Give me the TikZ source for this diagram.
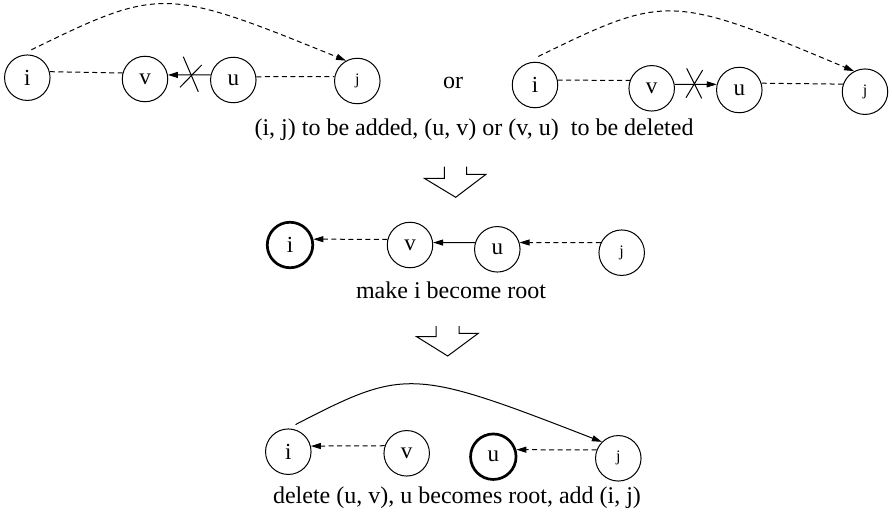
\documentclass[tikz,border=0pt]{standalone}
\usepackage{fontspec}
\setmainfont{Liberation Serif}
\usetikzlibrary{arrows.meta}
\begin{document}
\begin{tikzpicture}[x=1pt,y=-1pt,
  vertex/.style={draw,circle,minimum size=45.5pt,inner sep=0pt,line width=1pt,
                 font=\fontsize{23}{27}\selectfont},
  rootvertex/.style={vertex,line width=2.7pt},
  smalllabel/.style={font=\fontsize{16}{19}\selectfont},
  link/.style={line width=1pt},
  dashedlink/.style={link,dash pattern=on 5pt off 3.5pt},
  tip/.style={-{Triangle[length=10pt,width=6pt]}},
  caption/.style={font=\fontsize{24}{28}\selectfont,anchor=base},
  hollow/.style={line width=1pt,line join=miter},
  crossmark/.style={line width=1pt}
]
\useasboundingbox (0,0) rectangle (892,522);

% ---- first case: edge u -> v ----
\node[vertex] (ia) at (27.3,77.7) {i};
\node[vertex] (va) at (145,79) {v};
\node[vertex] (ua) at (233.3,80) {u};
\node[vertex,smalllabel] (ja) at (357.3,81) {j};
\draw[dashedlink] (ia.15) -- (va.165);
\draw[link,tip] (ua.167) -- (va.10);
\draw[dashedlink] (ua.8) -- (ja.169);
\draw[dashedlink,tip] ([yshift=5pt]ia.80) .. controls (160,-13) and (165,-13) .. (ja.119);
\draw[crossmark] (183.3,56.7) -- (198.3,91.7) (180,87.3) -- (201.7,65);

\node[caption] (or) at (453,88) {or};

% ---- second case: edge v -> u ----
\node[vertex] (ib) at (535,85) {i};
\node[vertex] (vb) at (651.7,88.3) {v};
\node[vertex] (ub) at (739.3,90) {u};
\node[vertex,smalllabel] (jb) at (865,91.7) {j};
\draw[dashedlink] (ib.12.5) -- (vb.160);
\draw[link,tip] (vb.10) -- (ub.166);
\draw[dashedlink] (ub.17) -- (jb.161);
\draw[dashedlink,tip] ([yshift=5.5pt]ib.82) .. controls (666,-6) and (671,-6) .. (jb.118);
\draw[crossmark] (686.7,68.3) -- (701.7,98.3) (686,97.7) -- (702.7,70);

\node[caption] (cap1) at (474,135) {(i, j) to be added, (u, v) or (v, u)\ \ to be deleted};

% hollow down arrow
\draw[hollow] (444.3,166.7) -- (444.3,178.3) -- (424.3,178.3) -- (455.7,197.3)
  -- (486,174.3) -- (466.7,174.3) -- (466.7,166.7);

% ---- re-rooting at i ----
\node[rootvertex] (ic) at (290,245) {i};
\node[vertex] (vc) at (410,245) {v};
\node[vertex] (uc) at (497.3,249.3) {u};
\node[vertex,smalllabel] (jc) at (621.7,252.7) {j};
\draw[dashedlink,tip] (vc.166) -- (ic.14);
\draw[link,tip] (uc.163) -- (vc.6);
\draw[dashedlink,tip] (jc.154) -- (uc.17);

\node[caption] (cap2) at (451,298) {make i become root};

% hollow down arrow
\draw[hollow] (436,326) -- (436,336.7) -- (416.7,336.7) -- (447.7,356)
  -- (478.3,333.3) -- (459,333.3) -- (459,326);

% ---- result ----
\node[vertex] (id) at (288.3,451.7) {i};
\node[vertex] (vd) at (406.7,453.3) {v};
\node[rootvertex] (ud) at (493.3,456.7) {u};
\node[vertex,smalllabel] (jd) at (618.3,458.3) {j};
\draw[dashedlink,tip] (vd.161.5) -- (id.14);
\draw[dashedlink,tip] (jd.159) -- (ud.17);
\draw[link,tip] ([yshift=5pt]id.72) .. controls (405,368) and (412,368) .. (jd.135);

\node[caption] (cap3) at (457,503) {delete (u, v), u becomes root, add (i, j)};
\end{tikzpicture}
\end{document}
